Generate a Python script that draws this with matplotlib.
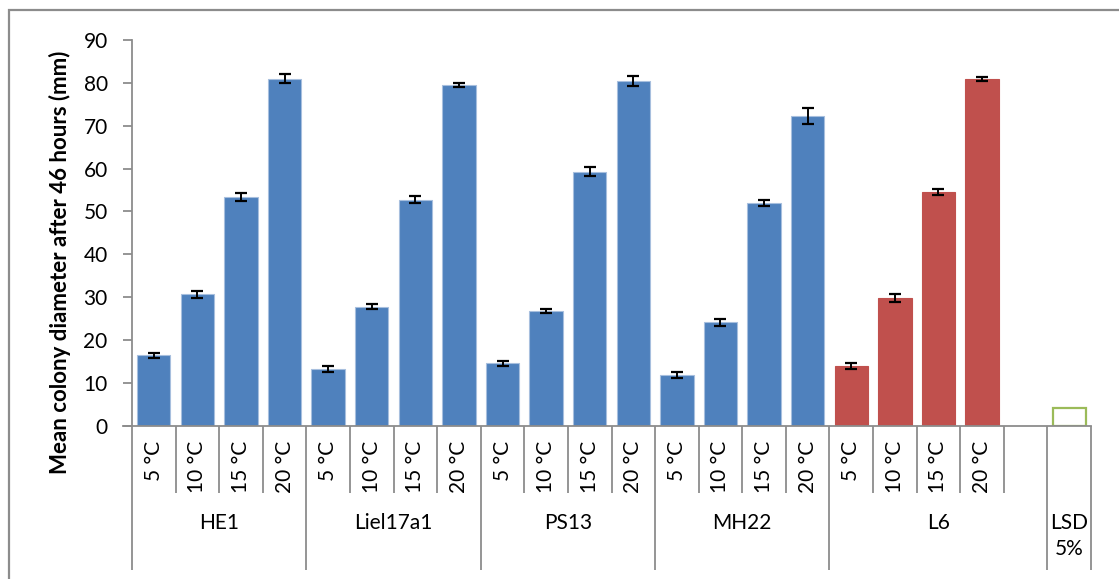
import matplotlib
matplotlib.use('Agg')
import numpy as np
from matplotlib import pyplot as plt
from matplotlib.patches import Rectangle

plt.rcParams.update({'font.family': ['Lato', 'DejaVu Sans'],
                     'font.size': 15})

strains = ['HE1', 'Liel17a1', 'PS13', 'MH22', 'L6']
temps = ['5 °C', '10 °C', '15 °C', '20 °C']

he1 = [16.4, 30.7, 53.4, 81.0]
liel17a1 = [13.2, 27.8, 52.7, 79.5]
ps13 = [14.6, 26.8, 59.3, 80.4]
mh22 = [11.9, 24.1, 51.9, 72.3]
l6 = [13.9, 29.8, 54.5, 80.9]

he1_err = [0.6, 0.8, 1.0, 1.0]
liel17a1_err = [0.75, 0.6, 0.85, 0.45]
ps13_err = [0.6, 0.5, 1.05, 1.25]
mh22_err = [0.7, 0.85, 0.7, 1.8]
l6_err = [0.75, 0.95, 0.7, 0.55]

lsd_5 = 4.2

means = [he1, liel17a1, ps13, mh22, l6]
errs = [he1_err, liel17a1_err, ps13_err, mh22_err, l6_err]

blue = '#4F81BD'
red = '#C0504D'
green = '#9BBB59'
grey = '#8C8C8C'

fig = plt.figure(figsize=(11.19, 5.79), dpi=100)
# pixel -> figure fraction helpers
W, H = 1119, 579
x0, x1, y0, y1 = 132, 1091, 425.7, 40
ax = fig.add_axes([x0 / W, 1 - y0 / H, (x1 - x0) / W, (y0 - y1) / H])


def yfrac(ypix):
    return (y0 - ypix) / (y0 - y1)


width = 0.765
for g, (vals, ee) in enumerate(zip(means, errs)):
    xs = np.arange(4) + 4 * g
    color = red if strains[g] == 'L6' else blue
    edge = '#A7BFDE' if color == blue else color
    ax.bar(xs, vals, width, color=color, edgecolor=edge, linewidth=0.8, zorder=2)
    ax.errorbar(xs, vals, yerr=ee, fmt='none', ecolor='black',
                elinewidth=1.4, capsize=4.3, capthick=1.6, zorder=3)

# LSD bar sits in the last slot, one empty slot after L6
ax.bar(21, lsd_5, width, facecolor='white', edgecolor=green, linewidth=1.6, zorder=2)

ax.set_xlim(-0.5, 21.5)
ax.set_ylim(0, 90)
ax.set_yticks(np.arange(0, 91, 10))
ax.set_xticks([])
for s in ['top', 'right']:
    ax.spines[s].set_visible(False)
for s in ['left', 'bottom']:
    ax.spines[s].set_color(grey)
    ax.spines[s].set_linewidth(1.3)
ax.tick_params(axis='y', length=6.5, width=1.3, color=grey, pad=11,
               labelsize=15)

trans = ax.get_xaxis_transform()

# category separators below the axis
group_edges = [-0.5, 3.5, 7.5, 11.5, 15.5, 20.5, 21.5]
for b in np.arange(-0.5, 22, 1.0):
    long = b in group_edges
    ax.plot([b, b], [0, yfrac(570 if long else 493)], color=grey, lw=1.3,
            transform=trans, clip_on=False, solid_capstyle='butt')
ax.plot([-0.5 - 9 / 43.6, -0.5], [0, 0], color=grey, lw=1.3,
        transform=trans, clip_on=False)

# temperature labels
for g in range(len(strains)):
    for t, lab in enumerate(temps):
        ax.text(4 * g + t, yfrac(441), lab, rotation=90, ha='center', va='top',
                fontsize=15, transform=trans)

# strain labels
for g, name in enumerate(strains):
    lo = group_edges[g]
    hi = group_edges[g + 1]
    ax.text((lo + hi) / 2, yfrac(513), name, ha='center', va='top',
            fontsize=15, transform=trans)
ax.text(21, yfrac(513), 'LSD\n5%', ha='center', va='top', fontsize=15,
        linespacing=1.35, transform=trans)

fig.text(60 / W, 1 - 262 / H, 'Mean colony diameter after 46 hours (mm)',
         rotation=90, ha='center', va='center', fontsize=16, fontweight='bold')

# chart frame
fig.patches.append(Rectangle((9 / W, -0.1), 2, 1 - 10 / H + 0.1,
                             transform=fig.transFigure, fill=False,
                             edgecolor=grey, linewidth=1.6))

fig.savefig('out.png', dpi=100)
